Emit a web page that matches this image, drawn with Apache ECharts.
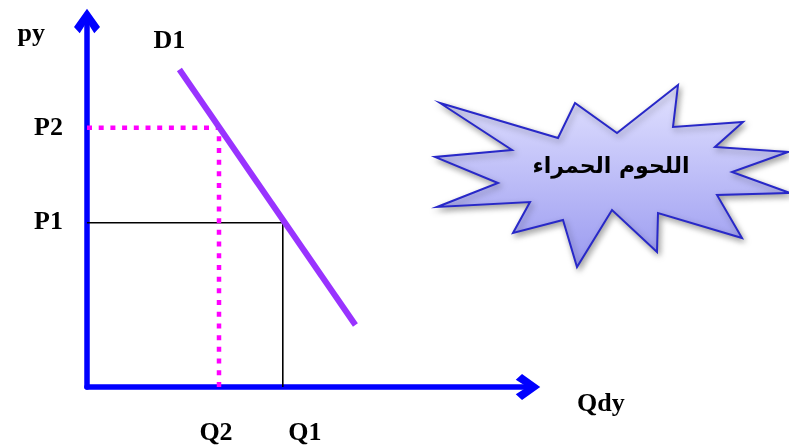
<!DOCTYPE html>
<html>
<head>
<meta charset="utf-8">
<script src="https://cdn.jsdelivr.net/npm/echarts@6/dist/echarts.min.js"></script>
<style>html,body{margin:0;padding:0;background:#fff}#c{width:789px;height:446px}</style>
</head>
<body>
<div id="c"></div>
<script>
// Demand curve D1 (quantity, price)
const demandQ = [2.1, 6.1];
const demandP = [8.7, 1.7];
// Equilibrium points
const pointNames = ['P1', 'P2'];
const priceValues = [4.5, 7.1];
const qtyNames = ['Q1', 'Q2'];
const qtyValues = [4.45, 3.0];
const axisMax = 10;
const calloutText = 'اللحوم الحمراء';

const serif = '"Liberation Serif","Times New Roman",serif';
const chevron = 'path://M50,0 L100,70 L78,94 L50,50 L22,94 L0,70 Z';

const chart = echarts.init(document.getElementById('c'));

const demandData = demandQ.map((q, i) => [q, demandP[i]]);
const p1 = priceValues[0], p2 = priceValues[1];
const q1 = qtyValues[0], q2 = qtyValues[1];

// starburst callout (decoration)
const star = [[440,103],[558,138],[575,103],[617,133],[678,85],[673,127],[743,122],[715,147],[788,152],[732,172],[790,193],[717,195],[742,238],[658,213],[657,252],[612,210],[577,267],[563,220],[513,233],[530,202],[437,207],[498,183],[435,157],[512,150]];

chart.setOption({
  animation: false,
  grid: { left: 87, right: 262, top: 22, bottom: 59, containLabel: false },
  xAxis: {
    type: 'value', min: 0, max: axisMax,
    axisLine: { show: true, symbol: ['none', chevron], symbolSize: [26, 26], symbolOffset: [0, 1],
      lineStyle: { color: '#0000ff', width: 5.5, cap: 'round' } },
    axisTick: { show: false }, splitLine: { show: false },
    axisLabel: {
      customValues: [q2, q1], margin: 33,
      formatter: v => v === q1 ? '{b|' + qtyNames[0] + '}' : '{a|' + qtyNames[1] + '}',
      rich: {
        a: { fontFamily: serif, fontWeight: 'bold', fontSize: 26, color: '#000', padding: [0, 6, 0, 0] },
        b: { fontFamily: serif, fontWeight: 'bold', fontSize: 26, color: '#000', padding: [0, 0, 0, 44] }
      }
    },
    name: 'Qdy', nameLocation: 'end', nameGap: 50,
    nameTextStyle: { fontFamily: serif, fontWeight: 'bold', fontSize: 26, color: '#000', align: 'left', verticalAlign: 'top', padding: [4, 0, 0, 0] }
  },
  yAxis: {
    type: 'value', min: 0, max: axisMax,
    axisLine: { show: true, symbol: ['none', chevron], symbolSize: [26, 26], symbolOffset: [0, 1],
      lineStyle: { color: '#0000ff', width: 5.5, cap: 'round' } },
    axisTick: { show: false }, splitLine: { show: false },
    axisLabel: {
      customValues: [p1, p2], margin: 24,
      formatter: v => v === p1 ? pointNames[0] : pointNames[1],
      fontFamily: serif, fontWeight: 'bold', fontSize: 26, color: '#000'
    },
    name: 'py', nameLocation: 'end', nameGap: -12,
    nameTextStyle: { fontFamily: serif, fontWeight: 'bold', fontSize: 26, color: '#000', align: 'right', verticalAlign: 'middle', padding: [0, 42, 0, 0] }
  },
  series: [
    {
      name: 'P1Q1', type: 'line', symbol: 'none', silent: true, z: 2,
      lineStyle: { color: '#000', width: 1.6 },
      data: [[0, p1], [q1, p1], [q1, 0]]
    },
    {
      name: 'P2Q2', type: 'line', symbol: 'none', silent: true, z: 3,
      lineStyle: { color: '#ff00ff', width: 4.5, type: [5, 6.7] },
      data: [[0, p2], [q2, p2], [q2, 0]]
    },
    {
      name: 'D1', type: 'line', symbol: 'none', silent: true, z: 4,
      lineStyle: { color: '#9933ff', width: 6 },
      data: demandData,
      markPoint: {
        symbol: 'circle', symbolSize: 0,
        data: [{ coord: demandData[0], name: 'D1' }],
        label: { show: true, formatter: 'D1', position: 'top', offset: [-10, -10],
          fontFamily: serif, fontWeight: 'bold', fontSize: 26, color: '#000' }
      }
    }
  ],
  graphic: [
    {
      type: 'polygon', z: 10,
      shape: { points: star },
      style: {
        fill: new echarts.graphic.LinearGradient(0, 0, 0, 1, [
          { offset: 0, color: '#e2e2ff' },
          { offset: 1, color: '#9a9af0' }
        ]),
        stroke: '#2828c8', lineWidth: 2,
        shadowBlur: 6, shadowColor: 'rgba(0,0,0,0.35)', shadowOffsetX: 2, shadowOffsetY: 3
      }
    },
    {
      type: 'text', z: 11, x: 611, y: 167,
      style: { text: calloutText, font: 'bold 22px "DejaVu Sans", "Noto Sans", sans-serif', fill: '#000', align: 'center', verticalAlign: 'middle' }
    }
  ]
});
</script>
</body>
</html>
